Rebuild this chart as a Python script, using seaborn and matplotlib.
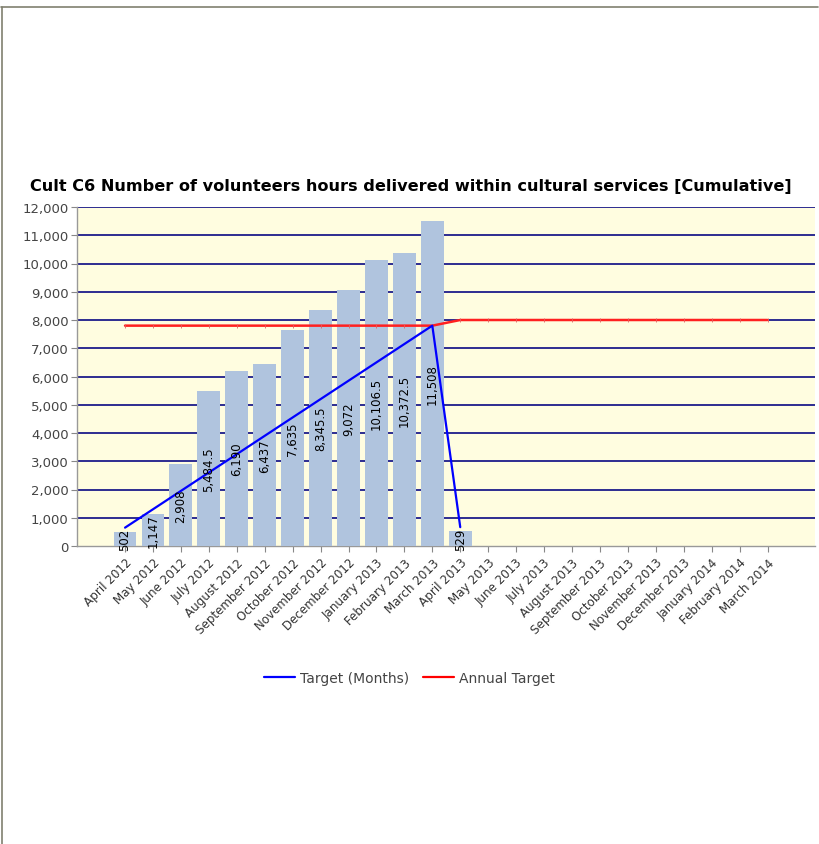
import numpy as np
import pandas as pd
import matplotlib
matplotlib.use("Agg")
import matplotlib.pyplot as plt
import seaborn as sns
from matplotlib.ticker import FuncFormatter
from matplotlib.lines import Line2D

months = ["April 2012", "May 2012", "June 2012", "July 2012", "August 2012",
          "September 2012", "October 2012", "November 2012", "December 2012",
          "January 2013", "February 2013", "March 2013", "April 2013", "May 2013",
          "June 2013", "July 2013", "August 2013", "September 2013", "October 2013",
          "November 2013", "December 2013", "January 2014", "February 2014", "March 2014"]
actual = [502, 1147, 2908, 5484.5, 6190, 6437, 7635, 8345.5, 9072, 10106.5,
          10372.5, 11508, 529] + [np.nan] * 11
bar_labels = ["502", "1,147", "2,908", "5,484.5", "6,190", "6,437", "7,635", "8,345.5",
              "9,072", "10,106.5", "10,372.5", "11,508", "529"]
target_months = [650, 1300, 1950, 2600, 3250, 3900, 4550, 5200, 5850, 6500, 7150, 7800, 667]
annual_target = [7800] * 12 + [8000] * 12

sns.set_theme(style="white")
plt.rcParams['font.family'] = ['DejaVu Sans']

fig = plt.figure(figsize=(8.19, 8.45), dpi=100)
ax = fig.add_axes([77/819, 1-547/845, (815-77)/819, (547-208)/845])
ax.set_facecolor("#FFFDE0")

df = pd.DataFrame({"month": months, "value": actual})
sns.barplot(data=df, x="month", y="value", order=months, color="#B0C4DE",
            saturation=1, width=0.82, ax=ax, linewidth=0, edgecolor="none")
for p in ax.patches:
    p.set_zorder(3)

# horizontal gridlines (behind bars)
for yv in range(1000, 12001, 1000):
    ax.axhline(yv, color="#1C1C8A", lw=1.3, zorder=1)

xi = np.arange(len(months))
ax.plot(xi[:len(target_months)], target_months, color="#0000FF", lw=1.6, zorder=5)
ax.plot(xi, annual_target, color="#FF2020", lw=1.8, zorder=4,
        marker="|", markersize=2.5, markeredgewidth=0.6, markeredgecolor="#E06060")

# bar value labels, centered in each bar, rotated
for i, (v, lab) in enumerate(zip(actual[:len(bar_labels)], bar_labels)):
    ax.text(i, v / 2, lab, rotation=90, ha="center", va="center",
            fontsize=8.5, color="black", zorder=6)

ax.set_ylim(0, 12000)
ax.set_xlim(-1.72, 24.7)
ax.set_yticks(range(0, 12001, 1000))
ax.yaxis.set_major_formatter(FuncFormatter(lambda v, p: f"{int(v):,}"))
ax.set_xticks(xi)
ax.set_xticklabels(months, rotation=45, ha="right", rotation_mode="anchor",
                   fontsize=8.6, color="#333333")
ax.tick_params(axis="y", labelsize=9.5, colors="#888888", labelcolor="#444444",
               length=4, width=0.8, direction="out", left=True, pad=2)
ax.tick_params(axis="x", length=4, width=0.8, direction="out", bottom=True,
               colors="#888888", labelcolor="#333333", pad=3)
ax.set_xlabel("")
ax.set_ylabel("")
for s in ["top", "right"]:
    ax.spines[s].set_visible(False)
for s in ["left", "bottom"]:
    ax.spines[s].set_color("#999999")
    ax.spines[s].set_linewidth(1.0)

fig.text(0.502, 1 - 186/845,
         "Cult C6 Number of volunteers hours delivered within cultural services [Cumulative]",
         ha="center", va="center", fontsize=11.6, fontweight="bold", color="black")

handles = [Line2D([], [], color="#0000FF", lw=1.6), Line2D([], [], color="#FF0000", lw=1.6)]
fig.legend(handles, ["Target (Months)", "Annual Target"], loc="center",
           bbox_to_anchor=(0.5, 1 - 679/845), ncol=2, frameon=False,
           fontsize=10, handlelength=2.2, columnspacing=1.0, handletextpad=0.4,
           labelcolor="#444444")

# outer border (top and left)
fig.add_artist(Line2D([0.001, 0.999], [1 - 8/845, 1 - 8/845], color="#808070", lw=1.2,
                      transform=fig.transFigure))
fig.add_artist(Line2D([1.5/819, 1.5/819], [0, 1 - 8/845], color="#808070", lw=1.2,
                      transform=fig.transFigure))

fig.savefig("out.png", dpi=100, facecolor="white")
